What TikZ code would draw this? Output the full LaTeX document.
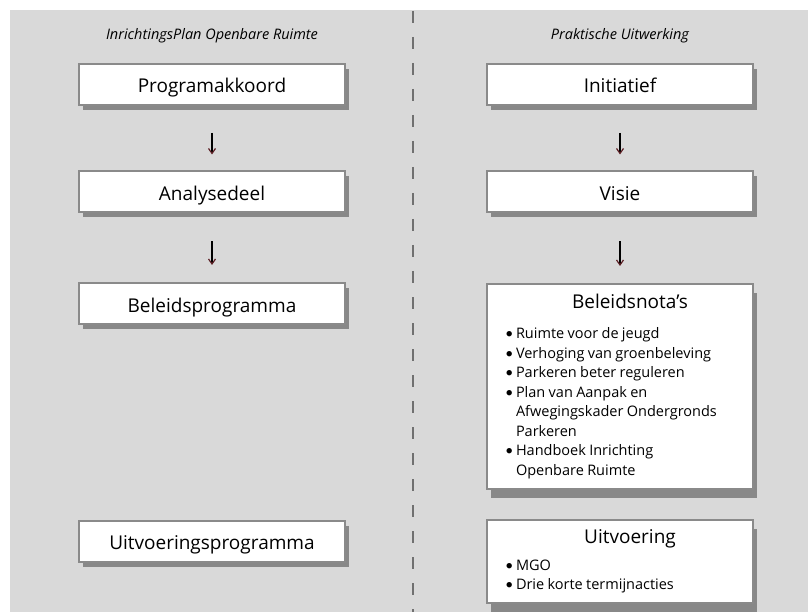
\documentclass[tikz,border=0pt]{standalone}
\usepackage{fontspec}
\setmainfont{Open Sans}
\newfontfamily\dotfont{Lato}
\usetikzlibrary{arrows.meta,shadows}

\definecolor{panelgray}{HTML}{D9D9D9}
\definecolor{rimgray}{HTML}{8A8A8A}
\definecolor{shadegray}{HTML}{888888}
\definecolor{splitgray}{HTML}{707070}
\definecolor{tipred}{HTML}{5C1F24}

\newcommand{\boxfont}{\fontsize{19}{23}\selectfont}
\newcommand{\listfont}{\fontsize{14.5}{19.5}\selectfont}
\newcommand{\headfont}{\fontsize{14.5}{18}\selectfont\itshape}
\newcommand{\bul}[1]{\hangindent=18pt\hangafter=1\noindent\hspace*{7pt}\makebox[11pt][l]{\dotfont\textbullet}#1\par}

\begin{document}
\begin{tikzpicture}[x=1pt,y=-1pt,
  plain/.style={rectangle,draw=rimgray,line width=2pt,fill=white,inner sep=0pt},
  stepbox/.style={plain,minimum width=266pt,minimum height=41pt,text height=17pt,text depth=0pt,font=\boxfont,drop shadow={shadow xshift=4pt,shadow yshift=-5pt,fill=shadegray,opacity=1}},
  listbox/.style={plain,anchor=north,text width=244pt,inner xsep=11pt,inner ysep=10pt,align=left,drop shadow={shadow xshift=4pt,shadow yshift=-9pt,fill=shadegray,opacity=1}},
  flow/.style={line width=2.4pt,-{Straight Barb[length=5pt,width=7pt,line width=1.2pt,color=tipred]}},
  head/.style={font=\headfont},
  splitline/.style={draw=splitgray,line width=2.5pt,dash pattern=on 12pt off 14pt}]
  \useasboundingbox (0,0) rectangle (808,612);
  \fill[panelgray] (10,10) rectangle (808,612);
  \draw[splitline] (413,11) coordinate (splittop) -- (413,612) coordinate (splitbot);

  % headings
  \node[head] (lefthead) at (212,36) {InrichtingsPlan Openbare Ruimte};
  \node[head] (righthead) at (620,36) {Praktische Uitwerking};

  % left column
  \node[stepbox] (prog) at (212,84.5) {Programakkoord};
  \node[stepbox] (analyse) at (212,192) {Analysedeel};
  \node[stepbox] (beleid) at (212,303.5) {Beleidsprogramma};
  \node[stepbox] (uitvprog) at (212,541) {Uitvoeringsprogramma};

  % right column
  \node[stepbox] (init) at (620,84.5) {Initiatief};
  \node[stepbox] (visie) at (620,192) {Visie};
  \node[listbox] (nota) at (620,283) {\vspace*{4pt}{\centering\boxfont\hspace*{20pt}Beleidsnota’s\par}\vspace{7pt}\listfont
    \bul{Ruimte voor de jeugd}
    \bul{Verhoging van groenbeleving}
    \bul{Parkeren beter reguleren}
    \bul{Plan van Aanpak en\newline Afwegingskader Ondergronds\newline Parkeren}
    \bul{Handboek Inrichting\newline Openbare Ruimte}};
  \node[listbox] (uitv) at (620,519) {{\centering\boxfont\hspace*{20pt}Uitvoering\par}\vspace{7pt}\listfont
    \bul{MGO}
    \bul{Drie korte termijnacties}};

  \draw[flow,shorten <=27pt,shorten >=16pt] (prog) -- (analyse);
  \draw[flow,shorten <=28pt,shorten >=17pt] (analyse) -- (beleid);
  \draw[flow,shorten <=27pt,shorten >=16pt] (init) -- (visie);
  \draw[flow,shorten <=28pt,shorten >=17pt] (visie) -- (nota);
\end{tikzpicture}
\end{document}
